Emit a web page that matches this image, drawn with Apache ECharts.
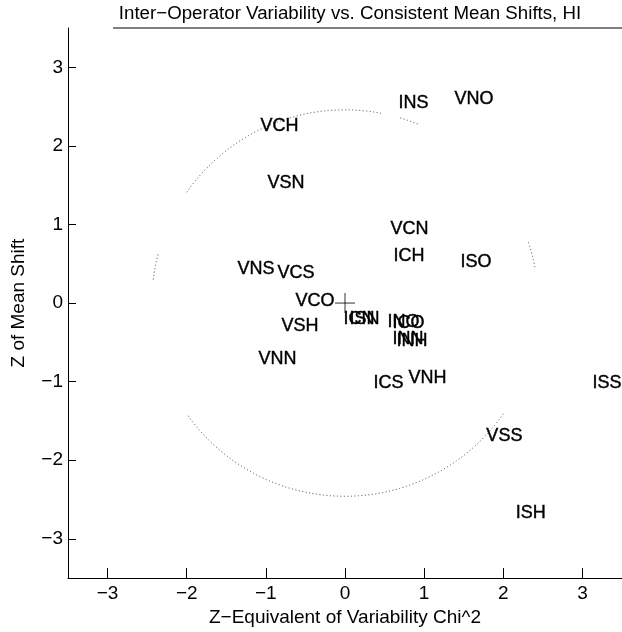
<!DOCTYPE html>
<html>
<head>
<meta charset="utf-8">
<script src="https://cdn.jsdelivr.net/npm/echarts@6/dist/echarts.min.js"></script>
<style>html,body{margin:0;padding:0;background:#fff;}#c{width:622px;height:632px;}</style>
</head>
<body>
<div id="c"></div>
<script>
// Operator/condition codes and their coordinates
const codes = ['VNO','INS','VCH','VSN','VCN','ICH','ISO','VNS','VCS','VCO','ICN','ISN','INO','ICO','INN','INH','VSH','VNN','ICS','VNH','ISS','VSS','ISH'];
const chiZ  = [1.377,0.67,-1.074,-0.986,0.569,0.607,1.453,-1.365,-0.859,-0.632,-0.025,0.05,0.531,0.594,0.594,0.644,-0.809,-1.10,0.354,0.796,3.12,1.78,2.15];
const meanZ = [2.63,2.58,2.29,1.57,0.98,0.64,0.56,0.47,0.42,0.06,-0.16,-0.17,-0.20,-0.22,-0.42,-0.44,-0.26,-0.67,-0.98,-0.92,-0.98,-1.66,-2.63];
const tickValues = [-3,-2,-1,0,1,2,3];
const origin = [0, 0];
const circleRadius = 2.45;
const arcFrom = [78.7, 67.8, 165.4, 10, 215];
const arcTo   = [145, 73.4, 173, 18.3, 325];

const fmt = v => (v < 0 ? '\u2212' + Math.abs(v) : String(v));
const FONT = 'Liberation Sans, Arial, Helvetica, sans-serif';

const chart = echarts.init(document.getElementById('c'), null, {renderer: 'canvas'});
chart.setOption({
  animation: false,
  backgroundColor: '#fff',
  title: {
    text: 'Inter\u2212Operator Variability vs. Consistent Mean Shifts, HI',
    left: 345, top: -1, textAlign: 'center',
    textStyle: {fontSize: 18.7, fontWeight: 'normal', color: '#000', fontFamily: FONT}
  },
  graphic: [{type: 'line', shape: {x1: 113, y1: 28, x2: 622, y2: 28}, style: {stroke: '#000', lineWidth: 1}}],
  grid: {left: 68, right: 0, top: 28, bottom: 49, containLabel: false},
  xAxis: {
    type: 'value', min: -3.5, max: 3.5,
    name: 'Z\u2212Equivalent of Variability Chi^2', nameLocation: 'middle', nameGap: 27,
    nameTextStyle: {fontSize: 19, color: '#000', fontFamily: FONT},
    axisLine: {show: true, onZero: false, lineStyle: {color: '#000', width: 1}},
    axisTick: {show: true, inside: true, length: 10, customValues: tickValues, lineStyle: {color: '#000'}},
    axisLabel: {show: true, customValues: tickValues, formatter: fmt, margin: 6, fontSize: 19, color: '#000', fontFamily: FONT},
    splitLine: {show: false}
  },
  yAxis: {
    type: 'value', min: -3.5, max: 3.5,
    name: 'Z of Mean Shift', nameLocation: 'middle', nameGap: 40,
    nameTextStyle: {fontSize: 19, color: '#000', fontFamily: FONT},
    axisLine: {show: true, onZero: false, lineStyle: {color: '#000', width: 1}},
    axisTick: {show: true, inside: true, length: 8, customValues: tickValues, lineStyle: {color: '#000'}},
    axisLabel: {show: true, customValues: tickValues, formatter: fmt, margin: 5, fontSize: 19, color: '#000', fontFamily: FONT},
    splitLine: {show: false}
  },
  series: [
    {
      type: 'custom', silent: true,
      data: arcFrom.map((a, i) => [origin[0], origin[1], a, arcTo[i]]),
      encode: {x: 0, y: 1},
      renderItem: function (params, api) {
        const c = api.coord([api.value(0), api.value(1)]);
        const s = api.size([circleRadius, circleRadius]);
        const r = (s[0] + s[1]) / 2;
        const a1 = api.value(2) * Math.PI / 180, a2 = api.value(3) * Math.PI / 180;
        return {
          type: 'arc',
          shape: {cx: c[0], cy: c[1], r: r, startAngle: -a2, endAngle: -a1, clockwise: true},
          style: {stroke: '#444', fill: 'none', lineWidth: 1, lineDash: [1, 2.5]}
        };
      }
    },
    {
      type: 'scatter', silent: true,
      data: [origin],
      symbol: 'path://M10,0L10,20M0,10L20,10',
      symbolSize: 20,
      itemStyle: {color: 'none', borderColor: '#000', borderWidth: 1}
    },
    {
      type: 'scatter', silent: true,
      data: codes.map((c, i) => ({name: c, value: [chiZ[i], meanZ[i]]})),
      symbolSize: 1,
      itemStyle: {color: 'rgba(0,0,0,0)'},
      label: {show: true, position: 'right', distance: 0, offset: [0, 3], formatter: '{b}', fontSize: 18, color: '#000', opacity: 1, textBorderColor: '#000', textBorderWidth: 0.4, fontFamily: FONT}
    }
  ]
});
</script>
</body>
</html>
